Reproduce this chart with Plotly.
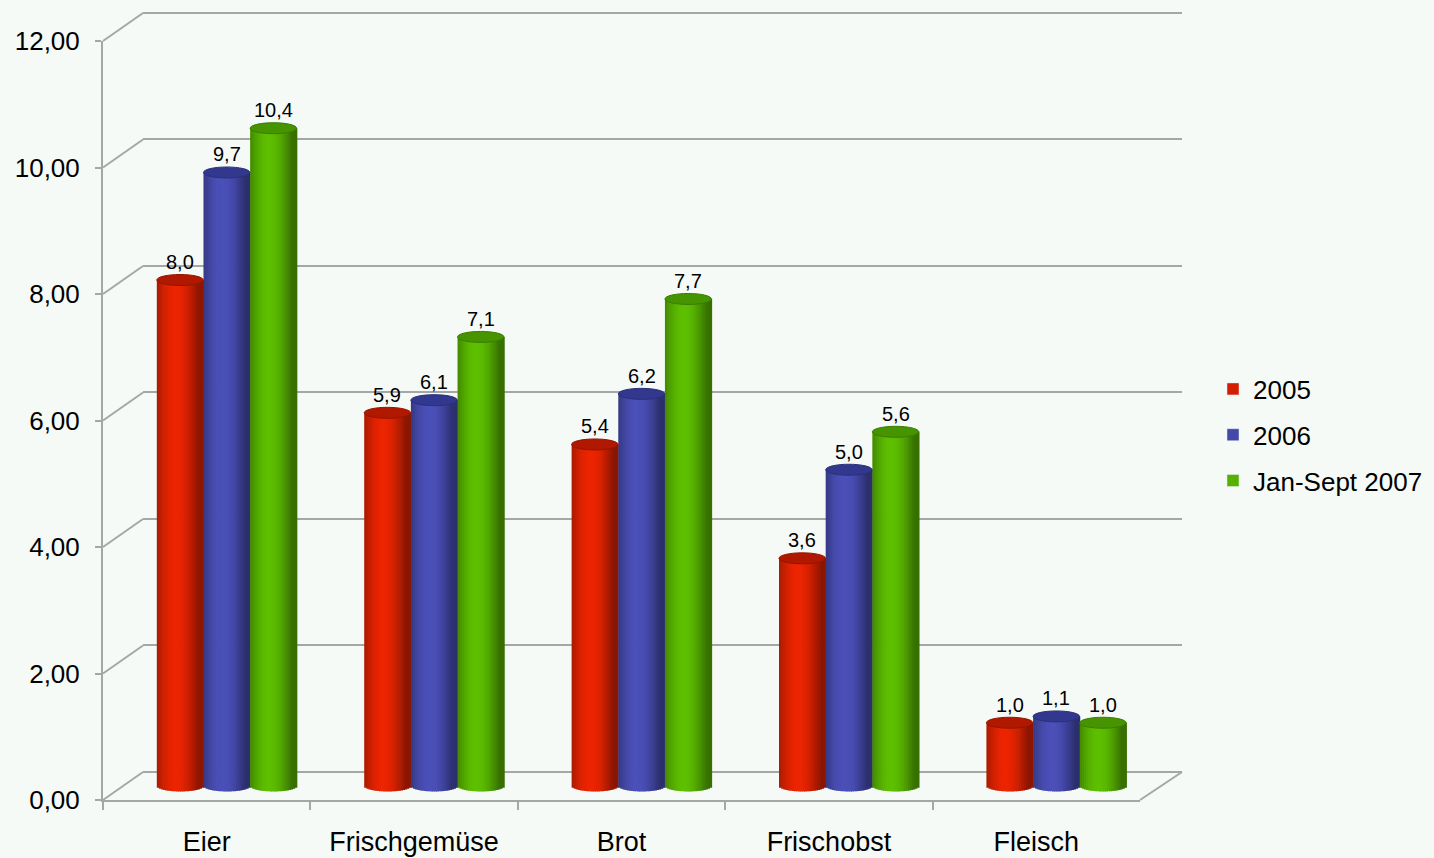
import numpy as np
import plotly.graph_objects as go

# ---- data -------------------------------------------------------------
categories = ["Eier", "Frischgemüse", "Brot", "Frischobst", "Fleisch"]
series_names = ["2005", "2006", "Jan-Sept 2007"]
values_2005 = [8.0, 5.9, 5.4, 3.6, 1.0]
values_2006 = [9.7, 6.1, 6.2, 5.0, 1.1]
values_2007 = [10.4, 7.1, 7.7, 5.6, 1.0]
y_ticks = [0, 2, 4, 6, 8, 10, 12]

series_values = [values_2005, values_2006, values_2007]
base_colors = ["#e82400", "#4a4fb6", "#5cbc00"]
top_colors = ["#b01800", "#33388f", "#459400"]
legend_colors = ["#d41e00", "#4548a8", "#55b000"]

# ---- geometry (pixels, figure 1434 x 858) ------------------------------
W, H = 1434, 858
PPU = (800 - 41) / 12.0          # pixels per value unit
FRONT = dict(x0=103, x1=1140, y0=800)
MID = dict(x0=123, x1=1160, y0=786)
BACK = dict(x0=143, x1=1182, y0=772)
FONT = "Liberation Sans, Arial, sans-serif"
GRID = "#a6a6a6"


def ydomain(y0px, lo, hi):
    """Paper domain of a y axis whose value 0 sits at pixel row y0px."""
    bottom = y0px - lo * PPU
    top = y0px - hi * PPU
    return [(H - bottom) / H, (H - top) / H]


def shade(hex_color, f):
    c = np.array([int(hex_color[i:i + 2], 16) for i in (1, 3, 5)], float)
    c = np.clip(c * f, 0, 255).astype(int)
    return "rgb(%d,%d,%d)" % tuple(c)


fig = go.Figure()

# ---- cylinders: vertical shaded strips on the mid-depth axes -----------
n_strips = 22
bar_w = 0.224
offsets = [-0.225, 0.0, 0.225]
ry = 5.5 / PPU                     # half height of the end ellipses
xs = np.arange(len(categories))

for s, vals in enumerate(series_values):
    vals = np.array(vals)
    xc = xs + offsets[s]
    for k in range(n_strips):
        u = (k + 0.5) / n_strips
        theta = (u - 0.5) * np.pi
        f = 0.6 + 0.42 * max(0.0, np.cos(theta + 0.3))
        b = -ry * np.sqrt(max(0.0, 1 - (2 * u - 1) ** 2))
        fig.add_trace(go.Bar(
            x=xc, y=vals - b, base=b,
            offset=(-0.5 + k / n_strips) * bar_w,
            width=bar_w / n_strips * 1.35,
            marker=dict(color=shade(base_colors[s], f), line=dict(width=0)),
            xaxis="x2", yaxis="y2", showlegend=False, hoverinfo="skip",
        ))
    # top faces and value labels
    for i, v in enumerate(vals):
        fig.add_shape(type="circle", xref="x2", yref="y2",
                      x0=xc[i] - bar_w / 2, x1=xc[i] + bar_w / 2,
                      y0=v - ry, y1=v + ry,
                      fillcolor=top_colors[s],
                      line=dict(color=shade(top_colors[s], 0.85), width=1),
                      layer="above")
        fig.add_annotation(x=xc[i], y=v, xref="x2", yref="y2",
                           text=("%.1f" % v).replace(".", ","),
                           showarrow=False, yshift=18, yanchor="middle",
                           font=dict(family=FONT, size=20, color="black"))

# legend entries
for s, name in enumerate(series_names):
    fig.add_trace(go.Bar(x=[None], y=[None], name=name,
                         marker=dict(color=legend_colors[s]),
                         legendgroup=name, xaxis="x2", yaxis="y2"))

# ---- back wall grid on the first axes ----------------------------------
fig.add_trace(go.Scatter(x=[None], y=[None], xaxis="x", yaxis="y",
                         showlegend=False, hoverinfo="skip"))

# diagonals joining the front axis to the back wall, plus floor edge
for v in y_ticks:
    fig.add_shape(type="line", xref="paper", yref="paper",
                  x0=FRONT["x0"] / W, y0=(H - (FRONT["y0"] - v * PPU)) / H,
                  x1=BACK["x0"] / W, y1=(H - (BACK["y0"] - v * PPU)) / H,
                  line=dict(color=GRID, width=2), layer="below")
fig.add_shape(type="line", xref="paper", yref="paper",
              x0=FRONT["x1"] / W, y0=(H - FRONT["y0"]) / H,
              x1=BACK["x1"] / W, y1=(H - BACK["y0"]) / H,
              line=dict(color=GRID, width=2), layer="below")

fig.update_layout(
    width=W, height=H,
    margin=dict(l=0, r=0, t=0, b=0, autoexpand=False),
    paper_bgcolor="#f5faf7", plot_bgcolor="rgba(0,0,0,0)",
    barmode="overlay", separators=",.",
    font=dict(family=FONT, color="black"),
    xaxis=dict(domain=[BACK["x0"] / W, BACK["x1"] / W], range=[-0.5, 4.5],
               showgrid=False, zeroline=False, showticklabels=False,
               automargin=False, fixedrange=True),
    yaxis=dict(domain=ydomain(BACK["y0"], -0.05, 12.05), range=[-0.05, 12.05],
               tickvals=y_ticks, showgrid=True, gridcolor=GRID, gridwidth=2,
               zeroline=False, showticklabels=False, automargin=False,
               fixedrange=True),
    xaxis2=dict(domain=[MID["x0"] / W, MID["x1"] / W], range=[-0.5, 4.5],
                anchor="y2", visible=False, automargin=False, fixedrange=True),
    yaxis2=dict(domain=ydomain(MID["y0"], -0.5, 12), range=[-0.5, 12],
                anchor="x2", visible=False, automargin=False, fixedrange=True),
    xaxis3=dict(domain=[FRONT["x0"] / W, FRONT["x1"] / W], anchor="y3",
                type="category", categoryorder="array", categoryarray=categories,
                range=[-0.5, 4.5], tickson="boundaries",
                showline=True, linecolor=GRID, linewidth=2,
                ticks="outside", ticklen=8, tickwidth=2, tickcolor=GRID,
                showgrid=False, tickfont=dict(family=FONT, size=27),
                ticklabelstandoff=17, automargin=False, fixedrange=True),
    yaxis3=dict(domain=ydomain(FRONT["y0"], 0, 12), anchor="x3", range=[0, 12],
                tickvals=y_ticks, tickformat=".2f",
                showline=True, linecolor=GRID, linewidth=2,
                ticks="outside", ticklen=6, tickwidth=2, tickcolor=GRID,
                showgrid=False, zeroline=False,
                tickfont=dict(family=FONT, size=26),
                ticklabelstandoff=10, automargin=False, fixedrange=True),
    legend=dict(x=1213 / W, xanchor="left", y=(H - 435) / H, yanchor="middle",
                font=dict(family=FONT, size=26), tracegroupgap=9,
                bgcolor="rgba(0,0,0,0)"),
)

# front axes carry one invisible trace so they are drawn
fig.add_trace(go.Scatter(x=categories, y=[None] * len(categories),
                         xaxis="x3", yaxis="y3", showlegend=False,
                         hoverinfo="skip"))

fig.write_html("out.html")
